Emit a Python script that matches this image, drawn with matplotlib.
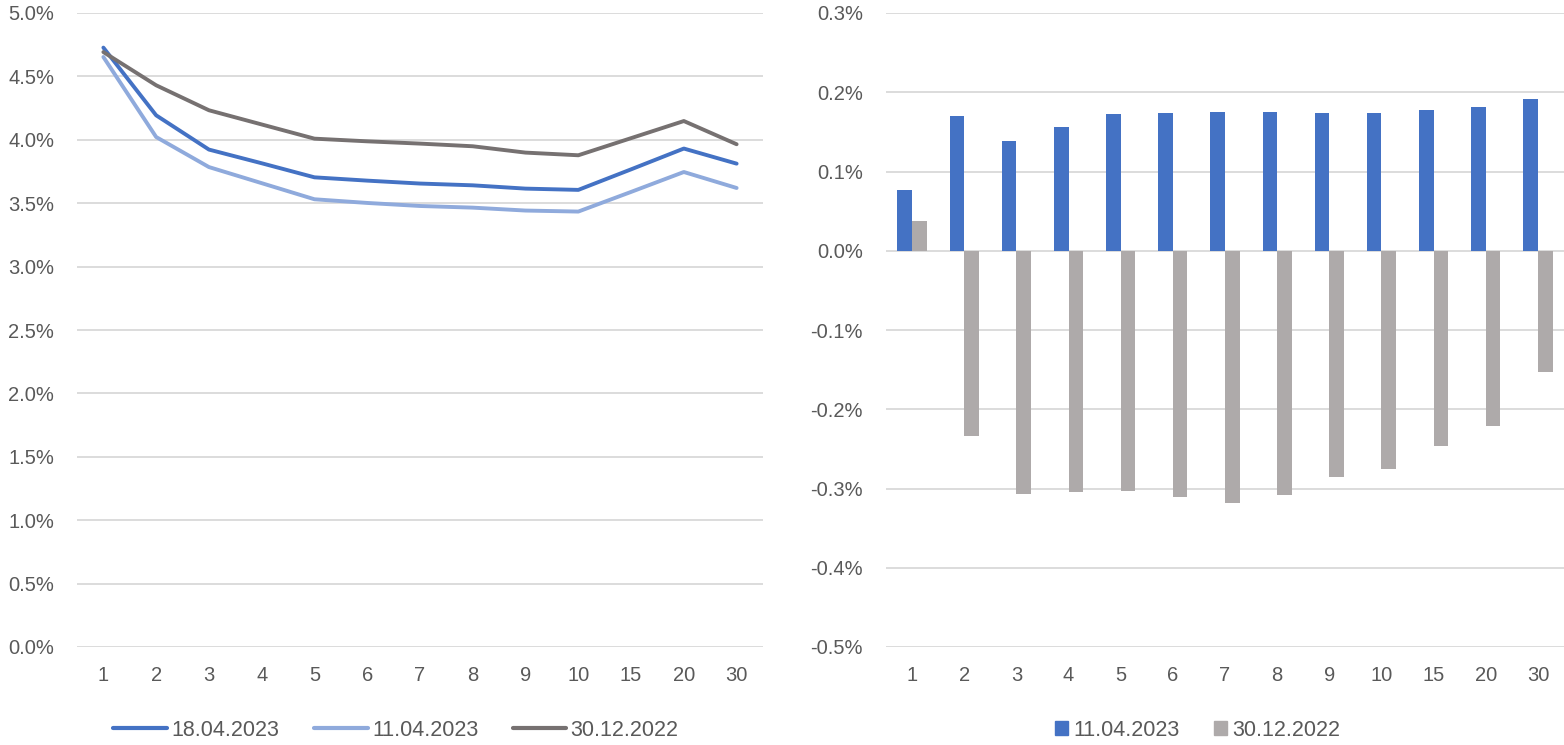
import matplotlib
matplotlib.use("Agg")
import matplotlib.pyplot as plt
from matplotlib.lines import Line2D
from matplotlib.patches import Patch
import numpy as np

# Maturities (years)
tenors = ["1", "2", "3", "4", "5", "6", "7", "8", "9", "10", "15", "20", "30"]

# Yield curves, %
curve_18_04_2023 = [4.727, 4.193, 3.923, 3.815, 3.704, 3.678, 3.655, 3.641, 3.615, 3.605, 3.767, 3.931, 3.812]
curve_11_04_2023 = [4.653, 4.022, 3.785, 3.658, 3.531, 3.502, 3.478, 3.465, 3.442, 3.434, 3.589, 3.746, 3.620]
curve_30_12_2022 = [4.692, 4.430, 4.233, 4.121, 4.009, 3.988, 3.970, 3.949, 3.899, 3.878, 4.013, 4.148, 3.965]

# Change in yield vs. earlier dates, percentage points
chg_vs_11_04_2023 = [0.077, 0.170, 0.139, 0.156, 0.173, 0.174, 0.175, 0.175, 0.174, 0.174, 0.177, 0.181, 0.191]
chg_vs_30_12_2022 = [0.038, -0.234, -0.307, -0.305, -0.303, -0.311, -0.318, -0.308, -0.286, -0.276, -0.247, -0.221, -0.153]

line_labels = ["18.04.2023", "11.04.2023", "30.12.2022"]
bar_labels = ["11.04.2023", "30.12.2022"]

plt.rcParams["font.family"] = ["Liberation Sans", "DejaVu Sans"]

TEXT = "#595959"
GRID = "#D9D9D9"
BLUE = "#4472C4"
LIGHT_BLUE = "#8FAADC"
DARK_GRAY = "#767171"
BAR_GRAY = "#AEAAAA"
FS_TICK = 14.5
FS_LEG = 15.5

W, H = 1564, 745
fig = plt.figure(figsize=(W / 100, H / 100), dpi=100)


def axes_px(x0, x1, y_top, y_bot):
    return fig.add_axes([x0 / W, (H - y_bot) / H, (x1 - x0) / W, (y_bot - y_top) / H])


def style(ax, ticks):
    for s in ax.spines.values():
        s.set_visible(False)
    ax.set_yticks(ticks)
    ax.set_yticklabels(["{:.1f}%".format(t + 0.0) for t in ticks])
    ax.set_ylim(ticks[0], ticks[-1])
    ax.set_xticks(np.arange(len(tenors)))
    ax.set_xticklabels(tenors)
    ax.set_xlim(-0.5, len(tenors) - 0.5)
    ax.tick_params(axis="both", length=0, labelsize=FS_TICK, colors=TEXT)
    ax.tick_params(axis="x", pad=14)
    ax.tick_params(axis="y", pad=16.5)
    ax.grid(axis="y", color=GRID, linewidth=1.3)
    ax.grid(axis="x", visible=False)
    ax.set_axisbelow(True)


x = np.arange(len(tenors))

# Left: yield curves
ax1 = axes_px(77, 763, 13, 647)
style(ax1, [round(v, 1) for v in np.arange(0, 5.01, 0.5)])
colors = [BLUE, LIGHT_BLUE, DARK_GRAY]
for vals, c, lab in zip([curve_18_04_2023, curve_11_04_2023, curve_30_12_2022], colors, line_labels):
    ax1.plot(x, vals, color=c, linewidth=2.8, solid_capstyle="round",
             solid_joinstyle="round", label=lab)

handles1 = [Line2D([0], [0], color=c, linewidth=3.0, solid_capstyle="round") for c in colors]
fig.legend(handles1, line_labels, loc="center", bbox_to_anchor=(396 / W, (H - 730) / H),
           ncol=3, frameon=False, fontsize=FS_LEG, handlelength=2.5, handletextpad=0.2,
           columnspacing=1.6, labelcolor=TEXT, borderpad=0)

# Right: changes
ax2 = axes_px(886, 1564, 13, 647)
style(ax2, [-0.5, -0.4, -0.3, -0.2, -0.1, 0.0, 0.1, 0.2, 0.3])
bw = 0.28
ax2.bar(x - bw / 2, chg_vs_11_04_2023, width=bw, color=BLUE, label=bar_labels[0], zorder=3)
ax2.bar(x + bw / 2, chg_vs_30_12_2022, width=bw, color=BAR_GRAY, label=bar_labels[1], zorder=3)

handles2 = [Patch(color=BLUE), Patch(color=BAR_GRAY)]
fig.legend(handles2, bar_labels, loc="center", bbox_to_anchor=(1198 / W, (H - 730) / H),
           ncol=2, frameon=False, fontsize=FS_LEG, handlelength=0.6, handleheight=0.6,
           handletextpad=0.25, columnspacing=1.6, labelcolor=TEXT, borderpad=0)

fig.savefig("out.png", dpi=100)
